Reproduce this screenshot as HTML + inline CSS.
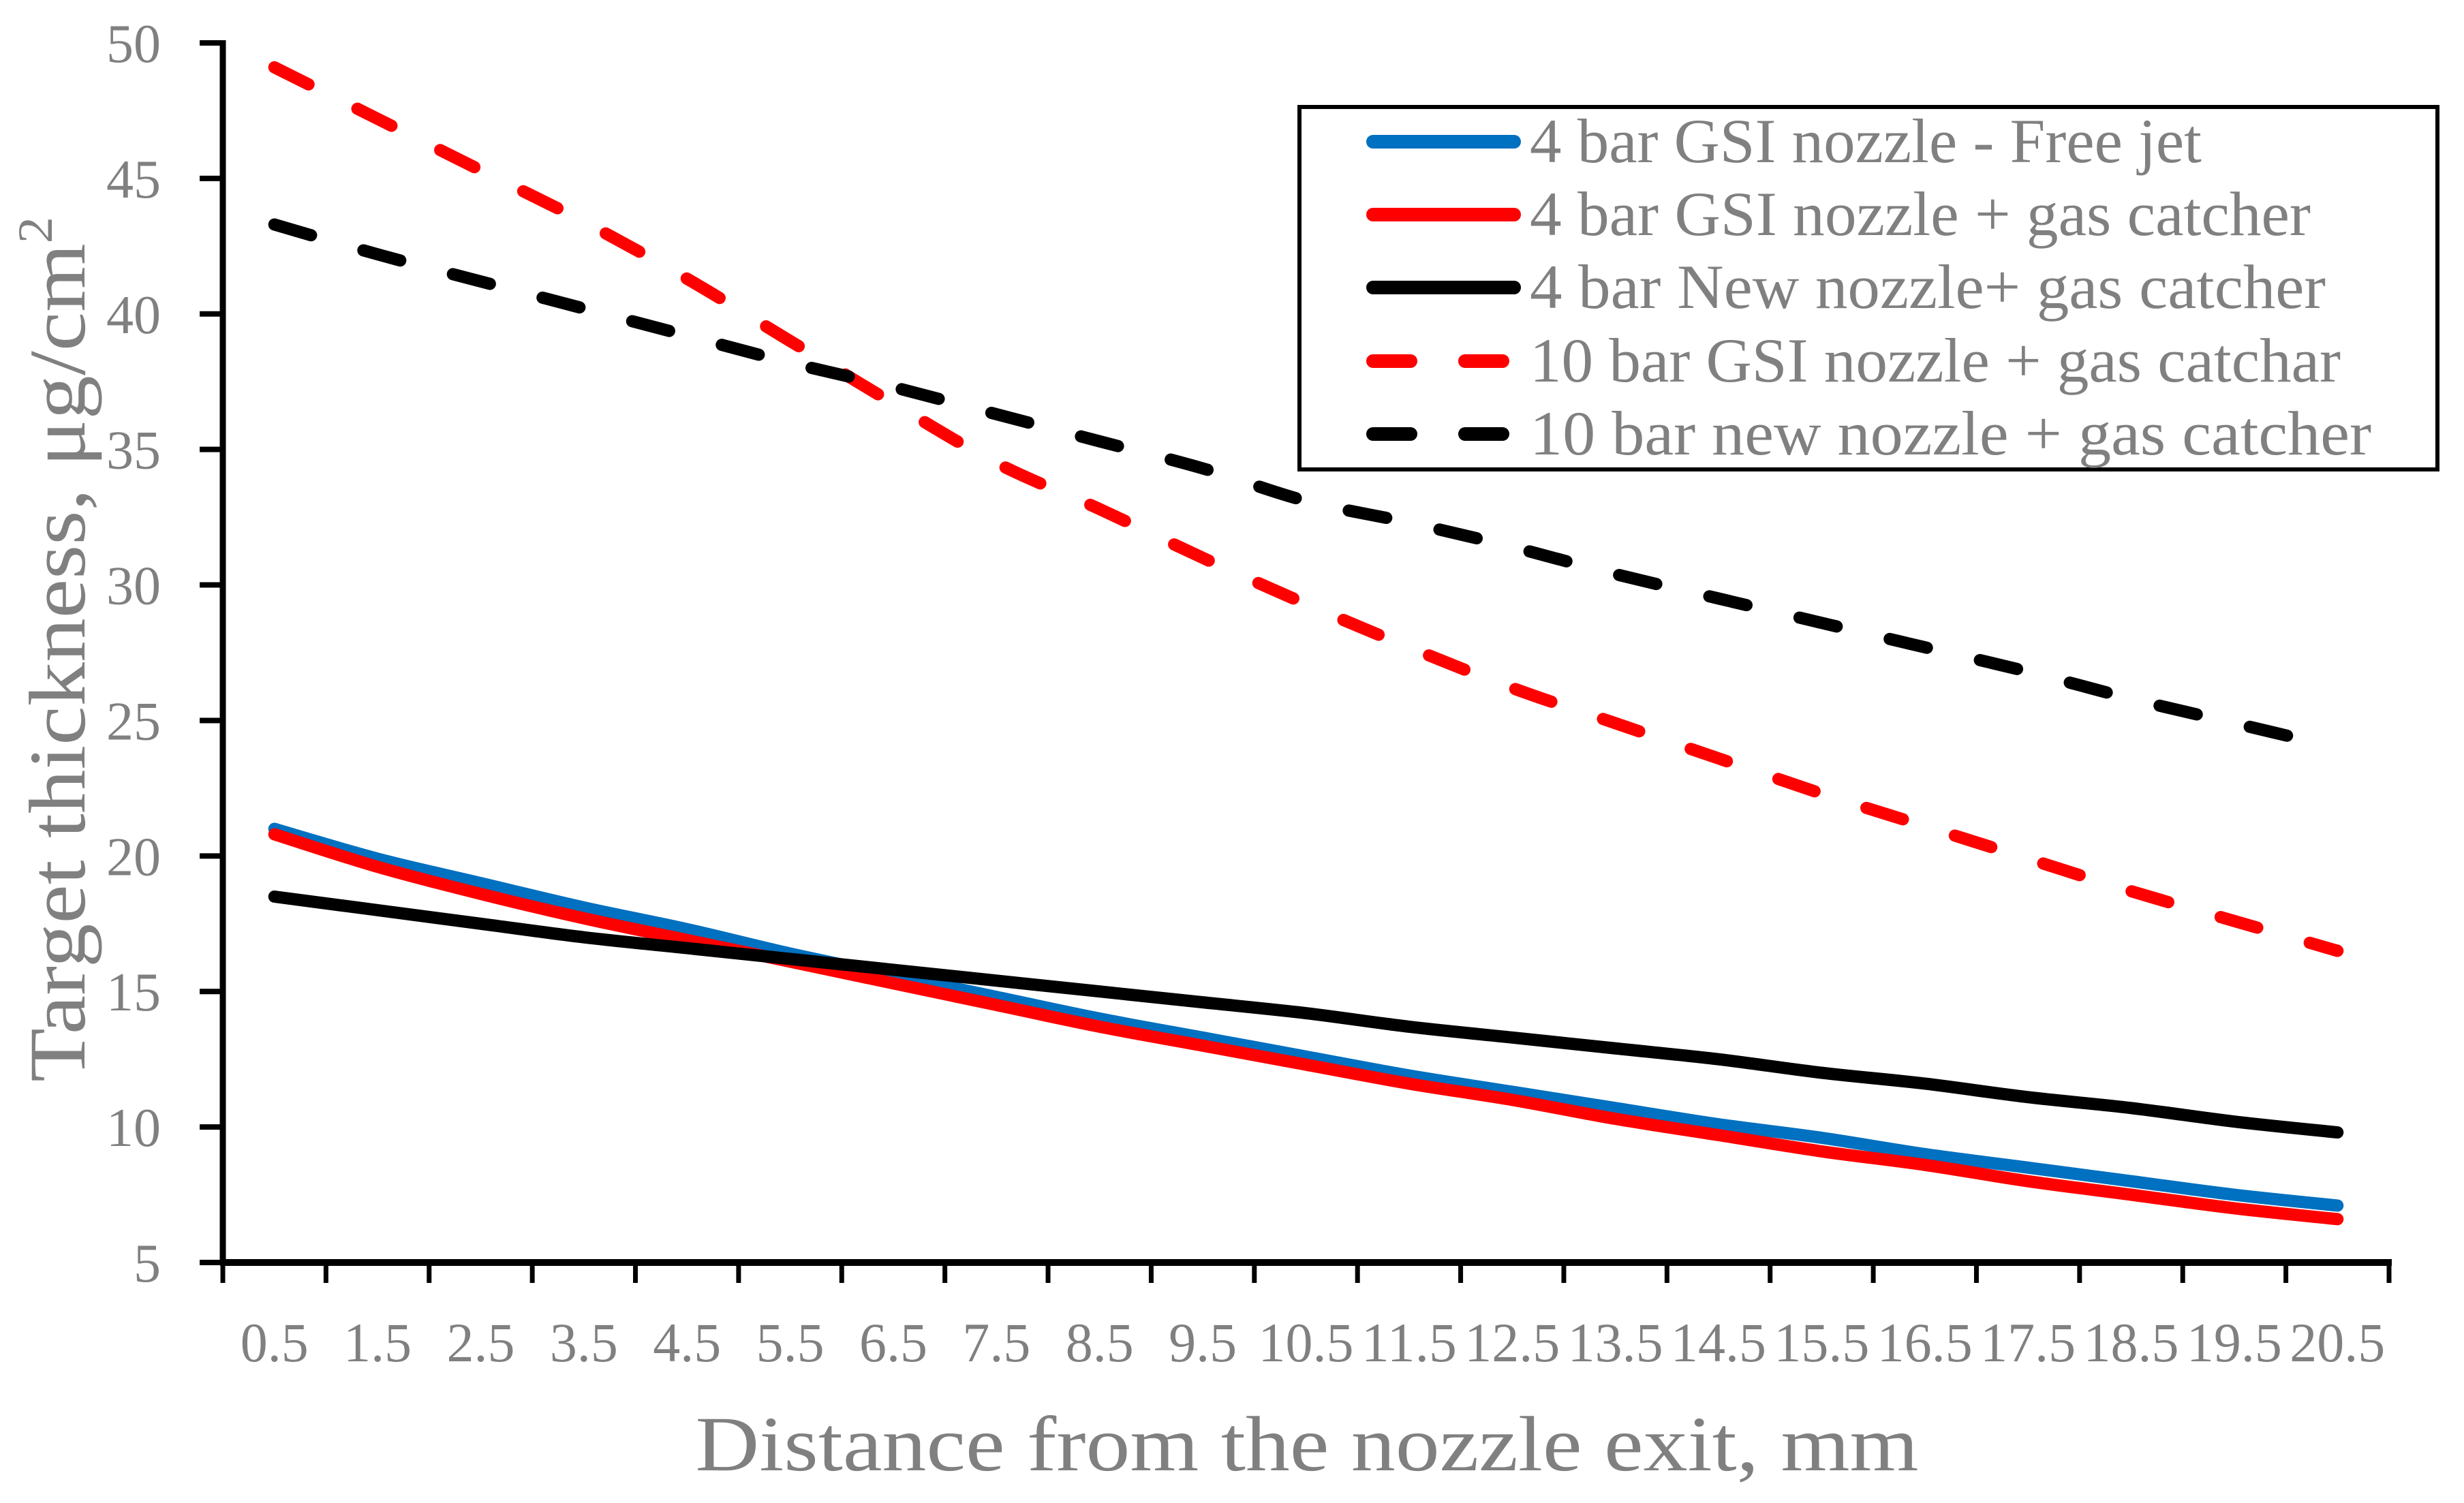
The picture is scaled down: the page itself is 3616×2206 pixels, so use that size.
<!DOCTYPE html>
<html><head><meta charset="utf-8"><style>
html,body{margin:0;padding:0;background:#fff;}
svg{display:block;}
text{font-family:"Liberation Serif",serif;fill:#808080;}
</style></head><body>
<svg id="chart" width="3616" height="2206" viewBox="0 0 3616 2206" xmlns="http://www.w3.org/2000/svg">
<g id="plot"></g>
<g id="axes"></g>
<text x="1918" y="2158" font-size="115" text-anchor="middle" textLength="1795" lengthAdjust="spacingAndGlyphs">Distance from the nozzle exit,  mm</text>
<text transform="translate(124,953) rotate(-90)" x="0" y="0" font-size="118" text-anchor="middle" textLength="1270" lengthAdjust="spacingAndGlyphs">Target thickness,  μg/cm<tspan font-size="72" dy="-48">2</tspan></text>
<g id="legend">
<rect x="1907" y="157" width="1670" height="532" fill="#fff" stroke="#000" stroke-width="6"/>
</g>
</svg>
<script>
const categories = ["0.5","1.5","2.5","3.5","4.5","5.5","6.5","7.5","8.5","9.5","10.5","11.5","12.5","13.5","14.5","15.5","16.5","17.5","18.5","19.5","20.5"];
const yTicks = [5,10,15,20,25,30,35,40,45,50];
const seriesNames = ["4 bar GSI nozzle - Free jet","4 bar GSI nozzle + gas catcher","4 bar New nozzle+ gas catcher","10 bar GSI nozzle + gas catchar","10 bar new nozzle  + gas catcher"];
const blueFree = [21.0,19.9,19.0,18.1,17.3,16.4,15.6,14.8,14.0,13.3,12.6,11.9,11.3,10.7,10.1,9.6,9.0,8.5,8.0,7.5,7.1];
const redCatcher = [20.8,19.6,18.6,17.7,16.9,16.1,15.3,14.5,13.7,13.0,12.3,11.6,11.0,10.3,9.7,9.1,8.6,8.0,7.5,7.0,6.6];
const blackNew = [18.5,18.0,17.5,17.0,16.6,16.2,15.8,15.4,15.0,14.6,14.2,13.7,13.3,12.9,12.5,12.0,11.6,11.1,10.7,10.2,9.8];
const red10 = [49.1,47.2,45.3,43.4,41.3,39.0,36.7,34.5,32.8,31.0,29.3,27.7,26.2,24.9,23.6,22.3,21.1,19.9,18.7,17.6,16.5];
const black10 = [43.3,42.2,41.2,40.2,39.2,38.2,37.3,36.3,35.3,34.3,33.1,32.3,31.4,30.4,29.5,28.6,27.7,26.8,25.8,24.9,24.0];

const NS="http://www.w3.org/2000/svg";
const X0=327, X1=3506, Y0=1853, Y1=63, YMIN=5, YMAX=50;
const band=(X1-X0)/categories.length;
function xScale(i){return X0+(i+0.5)*band;}
function yScale(v){return Y0-(v-YMIN)/(YMAX-YMIN)*(Y0-Y1);}
function mk(tag,attrs,parent){const e=document.createElementNS(NS,tag);for(const k in attrs)e.setAttribute(k,attrs[k]);parent.appendChild(e);return e;}
const axes=document.getElementById('axes'), plot=document.getElementById('plot'), legend=document.getElementById('legend');

let yl=mk('line',{x1:X0,y1:Y1-4,x2:X0,y2:Y0+4,stroke:'#000','stroke-width':9},axes);


yTicks.forEach(v=>{
  const y=yScale(v);
  const t=mk('line',{x1:X0-34,y1:y,x2:X0,y2:y,stroke:'#000','stroke-width':8},axes);
  
  
  const l=mk('text',{x:236,y:y+28,'font-size':80,'text-anchor':'end'},axes);
  
  
  l.textContent=v;
});
let xl=mk('line',{x1:X0-4,y1:Y0,x2:X1+4,y2:Y0,stroke:'#000','stroke-width':10},axes);


for(let i=0;i<=categories.length;i++){
  const x=X0+i*band;
  const t=mk('line',{x1:x,y1:Y0,x2:x,y2:Y0+30,stroke:'#000','stroke-width':7},axes);
  
  
}
categories.forEach((c,i)=>{
  const l=mk('text',{x:xScale(i),y:1998,'font-size':82,'text-anchor':'middle',textLength:(c.length>3?140:100),lengthAdjust:'spacingAndGlyphs'},axes);
  
  
  l.textContent=c;
});

const series=[
 {d:blueFree,color:'#0070C0',dash:null,name:'series-4bar-gsi-free-jet'},
 {d:redCatcher,color:'#FF0000',dash:null,name:'series-4bar-gsi-gas-catcher'},
 {d:blackNew,color:'#000000',dash:null,name:'series-4bar-new-gas-catcher'},
 {d:red10,color:'#FF0000',dash:'56 80',name:'series-10bar-gsi-gas-catcher'},
 {d:black10,color:'#000000',dash:'56 80',name:'series-10bar-new-gas-catcher'}
];
function smoothPath(pts){
  let d='M'+pts[0][0]+','+pts[0][1];
  for(let i=0;i<pts.length-1;i++){
    const p0=pts[Math.max(0,i-1)],p1=pts[i],p2=pts[i+1],p3=pts[Math.min(pts.length-1,i+2)];
    const c1=[p1[0]+(p2[0]-p0[0])/6,p1[1]+(p2[1]-p0[1])/6];
    const c2=[p2[0]-(p3[0]-p1[0])/6,p2[1]-(p3[1]-p1[1])/6];
    d+=' C'+c1[0]+','+c1[1]+' '+c2[0]+','+c2[1]+' '+p2[0]+','+p2[1];
  }
  return d;
}
series.forEach(s=>{
  const pts=s.d.map((v,i)=>[xScale(i),yScale(v)]);
  const a={d:smoothPath(pts),fill:'none',stroke:s.color,'stroke-width':18,'stroke-linecap':'round','stroke-linejoin':'round'};
  if(s.dash)a['stroke-dasharray']=s.dash;
  const p=mk('path',a,plot);
  
  
});
const legY=[208,315,422,530,637];
const legLen=[986,1146,1168,1190,1235];
series.forEach((s,i)=>{
  const y=legY[i];
  const a={x1:2015,y1:y,x2:2222,y2:y,stroke:s.color,'stroke-width':20,'stroke-linecap':'round'};
  if(s.dash)a['stroke-dasharray']='55 80';
  const ln=mk('line',a,legend);
  
  
  const t=mk('text',{x:2245,y:y+30,'font-size':92,textLength:legLen[i],lengthAdjust:'spacingAndGlyphs'},legend);
  
  
  t.setAttribute('xml:space','preserve');
  t.textContent=seriesNames[i];
});
</script>
</body></html>
